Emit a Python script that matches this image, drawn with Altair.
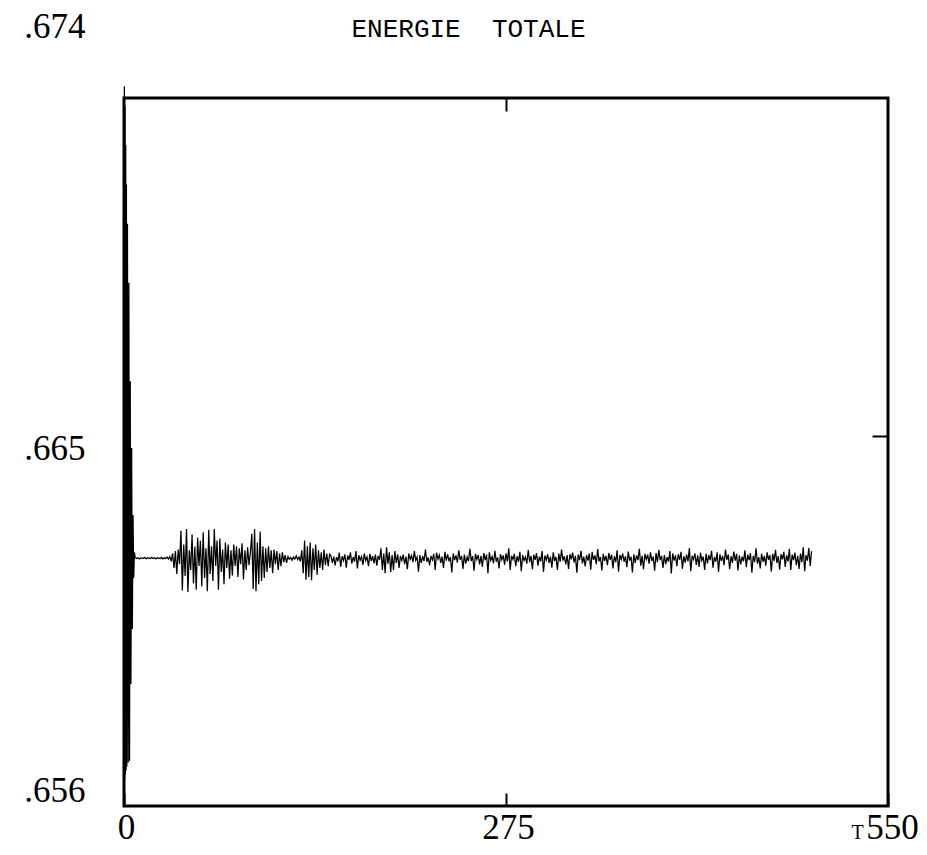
import altair as alt
import pandas as pd

# ---------------- data ----------------
TITLE = "ENERGIE\u00a0\u00a0TOTALE"
X_LABEL = "T"
X_TICKS = [0, 275, 550]
Y_TICKS = [0.656, 0.665, 0.674]
TOP_TICK = [275]
RIGHT_TICK = [0.6654]
BASE = 0.6623          # level of the curve after the initial transient
UNIT = 1e-5            # deviations below are in units of 1e-5

# initial strongly damped oscillation (t = 0 .. 7.5)
early_t = [0, 0.25, 0.5, 0.75, 1.0, 1.25, 1.5, 1.75, 2.0, 2.5, 3.0, 3.5,
           4.0, 4.5, 5.0, 5.5, 6.0, 6.5, 7.0, 7.5]
early_dev = [0, 1200, -560, 1150, -550, 1050, -540, 950, -530, 850, -520, 700,
             -515, 450, -320, 280, -180, 110, -50, 15]

# then one value per time unit, from t = 8 on
main_dev = [
    # t 8..33 quiet
    2, -1, 1, -2, 0, 1, -1, 2, -2, 1, 0, -1, 2, -1, 1, -2, 1, 0, -1, 2, -2, 1, -1, 3, -2, 4,
    # t 34..40
    -8, 12, -25, 18, -40, 22, -15,
    # t 41..55 large bursts
    70, -82, 35, -45, 74, -86, 20, -30, 60, -64, 30, -80, 52, -20, 44,
    # t 56..77
    -72, 66, -50, 25, -84, 72, -40, 30, -58, 74, -20, 45, -80, 50, -35, 22, -66, 40, -25, 35, -52, 20,
    # t 78..91
    -44, 35, -20, 30, -48, 25, -15, 38, -54, 20, -30, 28, -18, 15,
    # t 92..102
    62, -78, 74, -84, 40, -66, 68, -58, 30, -50, 25,
    # t 103..117
    -35, 30, -25, 20, -38, 22, -15, 18, -30, 12, -20, 15, -10, 8, -12,
    # t 118..127 quiet
    4, -3, 2, -5, 3, -2, 6, -4, 3, -8,
    # t 128..148
    20, -38, 45, -55, 30, -48, 40, -56, 25, -30, 35, -42, 20, -25, 15, -30, 22, -18, 12, -20, 10,
    # t 149..184
    6, -12, 4, -18, 3, -8, 14, -22, 5, -6, 10, -24, 7, -4, 15, -14, 3, -9, 18, -26,
    8, -5, 4, -17, 12, -6, 3, -20, 11, -7, 5, -13, 9, -19, 6, -4,
    # t 185..199
    25, -30, 12, -38, 28, -14, 15, -35, 8, -30, 18, -12, 10, -25, 6,
    # t 200..495 steady noise
    -6, 9, -15, 4, -28, 12, -3, 7, -10, 18, -5, 3, -34, 8, -12, 5, -7, 22, -9, 2,
    -18, 6, -4, 11, -30, 14, -2, 8, -12, 4, -25, 16, -6, 10, -8, 3, -36, 12, -5, 7,
    -11, 20, -4, 6, -27, 9, -14, 3, -8, 24, -7, 5, -32, 11, -3, 8, -16, 6, -22, 13,
    -5, 9, -38, 15, -6, 4, -13, 19, -9, 2, -26, 10, -4, 7, -17, 12, -8, 25, -30, 6,
    -3, 11, -20, 5, -9, 16, -33, 8, -6, 3, -14, 21, -10, 6, -28, 9, -4, 13, -19, 4,
    -8, 18, -35, 7, -5, 10, -12, 4, -24, 15, -7, 3, -30, 12, -9, 22, -6, 5, -16, 8,
    -27, 10, -3, 14, -11, 6, -37, 9, -5, 19, -13, 4, -21, 8, -6, 12, -29, 16, -4, 7,
    -15, 23, -8, 3, -31, 11, -7, 6, -18, 13, -4, 9, -26, 5, -10, 20, -34, 8, -3, 12,
    -9, 5, -23, 17, -6, 4, -36, 10, -12, 7, -5, 24, -19, 6, -28, 11, -3, 9, -14, 15,
    -7, 4, -32, 13, -10, 21, -5, 6, -25, 8, -15, 3, -9, 18, -39, 12, -6, 7, -20, 10,
    -4, 16, -27, 5, -11, 9, -8, 26, -33, 6, -3, 12, -17, 7, -22, 14, -6, 4, -30, 11,
    -13, 8, -5, 19, -24, 3, -9, 15, -35, 10, -7, 6, -18, 22, -4, 9, -28, 5, -12, 17,
    -6, 11, -31, 7, -16, 4, -8, 20, -23, 9, -5, 13, -37, 6, -10, 25, -14, 3, -26, 12,
    -9, 6, -19, 15, -4, 8, -34, 11, -7, 21, -12, 5, -29, 10, -3, 16, -22, 7, -8, 24,
    -30, 9, -5, 14, -18, 6, -27, 12, -10, 28, -33, 8, -6, 26, -20, 18,
]

main_t = [8 + i for i in range(len(main_dev))]

df = pd.DataFrame({
    "t": early_t + main_t,
    "e": [BASE + d * UNIT for d in early_dev + main_dev],
})

# ---------------- chart ----------------
SERIF = "Liberation Serif"
MONO = "Liberation Mono"

x_scale = alt.Scale(domain=[0, 550], nice=False, zero=False)
y_scale = alt.Scale(domain=[0.656, 0.674], nice=False, zero=False)

line = alt.Chart(df).mark_line(color="black", strokeWidth=1.25, clip=False).encode(
    x=alt.X("t:Q", scale=x_scale,
            axis=alt.Axis(orient="bottom", values=X_TICKS, format="d", grid=False,
                          domain=False, ticks=True, tickSize=13, tickWidth=2,
                          tickColor="black", offset=-13, labelPadding=4,
                          labelFont=SERIF, labelFontSize=35, labelColor="black",
                          labelFlush=False, labelOverlap=False,
                          labelOffset={"condition": {"test": "datum.value > 500", "value": 4},
                                       "value": 2},
                          title=X_LABEL, titleFont=SERIF, titleFontSize=20,
                          titleFontWeight="normal", titleColor="black",
                          titleX=733, titleY=39, titleBaseline="middle")),
    y=alt.Y("e:Q", scale=y_scale,
            axis=alt.Axis(orient="left", values=Y_TICKS,
                          labelExpr="replace(format(datum.value, '.3f'), '0.', '.')",
                          grid=False, domain=False, ticks=False, labelPadding=39,
                          labelFont=SERIF, labelFontSize=35, labelColor="black",
                          labelFlush=False, labelOverlap=False,
                          labelOffset={"condition": [
                              {"test": "datum.value > 0.670", "value": -72},
                              {"test": "datum.value < 0.660", "value": -16}],
                              "value": -4},
                          title=None)),
)

ghost = alt.Chart(df).mark_line(opacity=0).encode(
    x=alt.X("t:Q", scale=x_scale,
            axis=alt.Axis(orient="top", values=TOP_TICK, grid=False, domain=False,
                          ticks=True, tickSize=13, tickWidth=2, tickColor="black",
                          offset=-13, labels=False,
                          title=TITLE, titleFont=MONO, titleFontSize=26,
                          titleFontWeight="normal", titleColor="black",
                          titleX=344, titleY=-83, titleAlign="center",
                          titleBaseline="middle")),
    y=alt.Y("e:Q", scale=y_scale,
            axis=alt.Axis(orient="right", values=RIGHT_TICK, grid=False, domain=False,
                          ticks=True, tickSize=16, tickWidth=2, tickColor="black",
                          offset=-16, labels=False, title=None)),
)

chart = alt.layer(line, ghost).resolve_axis(x="independent", y="independent").properties(
    width=764,
    height=708,
    autosize=alt.AutoSizeParams(type="none"),
    padding={"left": 116, "top": 90, "right": 31, "bottom": 40},
).configure_view(
    stroke="black", strokeWidth=3
)

chart.save("out.html", embed_options={"renderer": "svg", "actions": False})
